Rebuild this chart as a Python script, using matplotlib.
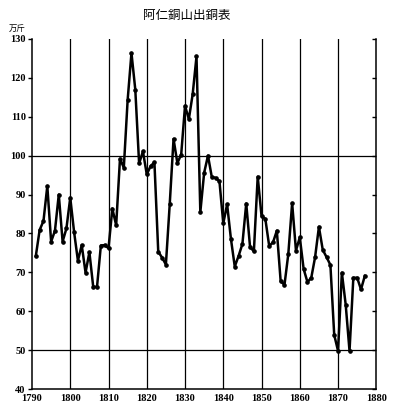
import matplotlib
matplotlib.use("Agg")
import matplotlib.pyplot as plt

years = list(range(1791, 1878))
output = [
    74.2, 80.9, 83.2, 92.2, 77.9, 80.7, 90.0, 77.9, 81.3, 89.2,   # 1791-1800
    80.4, 73.0, 77.0, 69.9, 75.2, 66.3, 66.3, 76.9, 77.0, 76.2,   # 1801-1810
    86.4, 82.1, 99.2, 96.9, 114.3, 126.4, 117.0, 98.0, 101.1, 95.2,  # 1811-1820
    97.3, 98.3, 75.3, 73.8, 72.0, 87.5, 104.3, 98.1, 100.3, 112.8,  # 1821-1830
    109.4, 115.8, 125.5, 85.5, 95.6, 100.0, 94.5, 94.3, 93.4, 82.6,  # 1831-1840
    87.5, 78.6, 71.5, 74.2, 77.3, 87.7, 76.5, 75.4, 94.6, 84.5,   # 1841-1850
    83.7, 76.8, 77.7, 80.7, 67.7, 66.8, 74.7, 87.8, 75.6, 79.0,   # 1851-1860
    70.9, 67.5, 68.6, 73.9, 81.7, 75.8, 73.9, 71.9, 53.9, 49.8,   # 1861-1870
    69.9, 61.7, 49.8, 68.6, 68.6, 65.6, 69.1,                     # 1871-1877
]
x_ticks = [1790, 1800, 1810, 1820, 1830, 1840, 1850, 1860, 1870, 1880]
y_ticks = [40, 50, 60, 70, 80, 90, 100, 110, 120, 130]
v_lines = [1800, 1810, 1820, 1830, 1840, 1850, 1860, 1870]
h_lines = [50, 100]
title = "阿仁銅山出銅表"
unit = "万斤"

fig = plt.figure(figsize=(3.94, 4.15), dpi=100)
ax = fig.add_axes([32/394, 1-389/415, (376.3-32)/394, (389-39)/415])
ax.set_xlim(1790, 1880)
ax.set_ylim(40, 130)

for v in v_lines:
    ax.axvline(v, color="black", lw=0.9, zorder=1)
for h in h_lines:
    ax.axhline(h, color="black", lw=0.9, zorder=1)

ax.plot(years, output, color="black", lw=1.8, marker="o", markersize=2.3, zorder=3)

ax.spines["top"].set_visible(False)
for s in ["left", "right", "bottom"]:
    ax.spines[s].set_linewidth(1.1)

ax.set_xticks(x_ticks)
ax.set_yticks(y_ticks)
ax.set_xticklabels([str(t) for t in x_ticks], family="Liberation Serif",
                   fontsize=7.5, fontweight="bold")
ax.set_yticklabels([str(t) for t in y_ticks], family="Liberation Serif",
                   fontsize=7.5, fontweight="bold")
ax.tick_params(axis="x", length=0, pad=3.5)
ax.tick_params(axis="y", direction="out", length=3, width=1, pad=1.5, right=True)
# right ticks inward
for t in ax.yaxis.get_major_ticks():
    t.tick2line.set_marker(matplotlib.lines.TICKLEFT)
    t.tick2line.set_markersize(3)

fig.text(0.475, 1-15/415, title, family=["Noto Sans CJK JP"], fontsize=9,
         ha="center", va="center")
fig.text(17/394, 1-29/415, unit, family=["Noto Sans CJK JP"], fontsize=6,
         ha="center", va="center")

fig.savefig("out.png", dpi=100)
